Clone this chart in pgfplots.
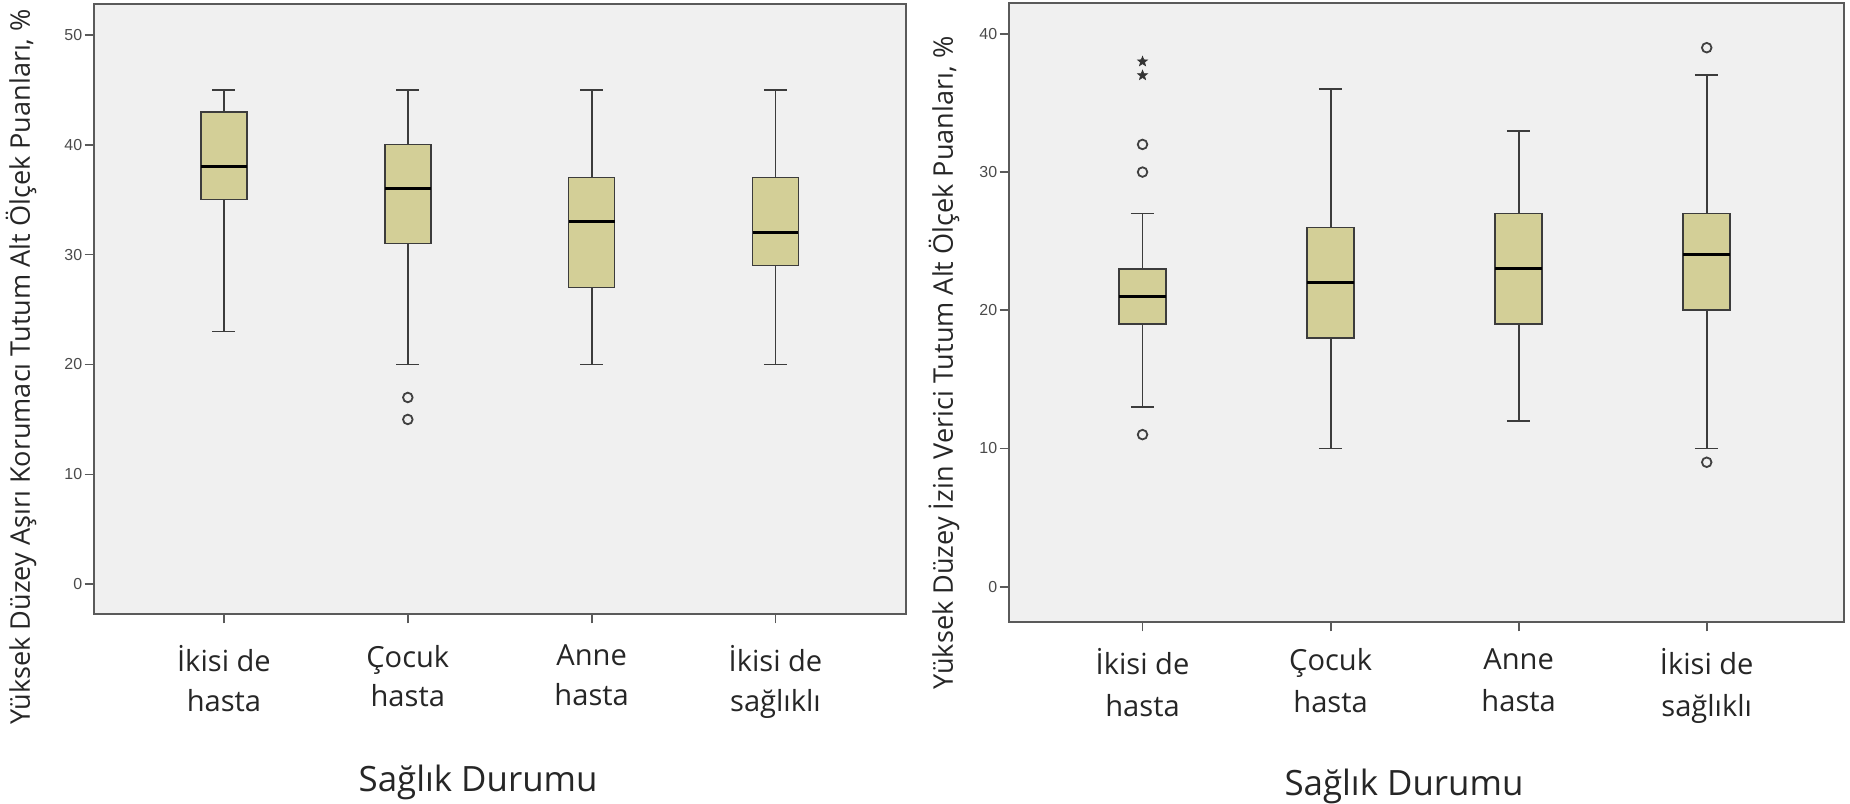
\documentclass[border=0pt]{standalone}
\usepackage{fontspec}
\setmainfont{Open Sans}
\newfontfamily\tickfont{Liberation Sans}
\usepackage{pgfplots}
\pgfplotsset{compat=1.18}
\definecolor{boxfill}{HTML}{D3CF97}
\definecolor{boxline}{HTML}{3C3C3C}
\definecolor{bgc}{HTML}{F0F0F0}
\definecolor{framec}{HTML}{5A5A5A}
\definecolor{outl}{HTML}{404040}
\definecolor{tickc}{HTML}{4A4A4A}
\pgfdeclareplotmark{fstar}{%
  \pgfpathmoveto{\pgfpointpolar{90}{\pgfplotmarksize}}%
  \pgfpathlineto{\pgfpointpolar{126}{0.42\pgfplotmarksize}}%
  \pgfpathlineto{\pgfpointpolar{162}{\pgfplotmarksize}}%
  \pgfpathlineto{\pgfpointpolar{198}{0.42\pgfplotmarksize}}%
  \pgfpathlineto{\pgfpointpolar{234}{\pgfplotmarksize}}%
  \pgfpathlineto{\pgfpointpolar{270}{0.42\pgfplotmarksize}}%
  \pgfpathlineto{\pgfpointpolar{306}{\pgfplotmarksize}}%
  \pgfpathlineto{\pgfpointpolar{342}{0.42\pgfplotmarksize}}%
  \pgfpathlineto{\pgfpointpolar{18}{\pgfplotmarksize}}%
  \pgfpathlineto{\pgfpointpolar{54}{0.42\pgfplotmarksize}}%
  \pgfpathclose
  \pgfusepathqfillstroke}
\pgfplotsset{
  wh/.style={draw=boxline, line width=0.9bp, mark=none, forget plot},
  bxs/.style={draw=boxline, fill=boxfill, line width=0.8bp, mark=none, forget plot},
  md/.style={draw=black, line width=1.5bp, mark=none, forget plot},
  outo/.style={only marks, mark=o, mark size=2.4bp, mark options={draw=outl, line width=0.9bp}},
  sp/.style={
    scale only axis,
    axis background/.style={fill=bgc},
    axis line style={draw=framec, line width=1bp},
    xtick={1,2,3,4},
    xticklabels={{İkisi de\\hasta},{Çocuk\\hasta},{Anne\\hasta},{İkisi de\\sağlıklı}},
    xticklabel style={align=center, font=\fontsize{14.6}{20}\selectfont, text=black!85},
    xtick pos=bottom, ytick pos=left,
    tick align=outside,
    major tick length=4.7bp,
    tick style={draw=framec, line width=0.9bp},
    /pgf/number format/assume math mode=true,
    yticklabel style={font=\tickfont\fontsize{8}{9}\selectfont, text=tickc, inner xsep=1bp},
    ytick={0,10,20,30,40,50},
    minor tick num=0,
    label style={font=\fontsize{13.6}{16}\selectfont, text=black!85},
    xlabel style={font=\fontsize{17.5}{21}\selectfont, anchor=center},
    ylabel style={anchor=center},
    xlabel={Sağlık Durumu},
  }
}
% pos, lower whisker, lower quartile, median, upper quartile, upper whisker
\newcommand{\bxp}[6]{%
  \pgfmathsetmacro{\xa}{#1-0.125}\pgfmathsetmacro{\xb}{#1+0.125}%
  \pgfmathsetmacro{\ca}{#1-0.0625}\pgfmathsetmacro{\cb}{#1+0.0625}%
  \addplot[wh] coordinates {(#1,#2) (#1,#3)};
  \addplot[wh] coordinates {(#1,#5) (#1,#6)};
  \addplot[wh] coordinates {(\ca,#2) (\cb,#2)};
  \addplot[wh] coordinates {(\ca,#6) (\cb,#6)};
  \addplot[bxs] coordinates {(\xa,#3) (\xb,#3) (\xb,#5) (\xa,#5)} -- cycle;
  \addplot[md] coordinates {(\xa,#4) (\xb,#4)};
}
\begin{document}
\begin{tikzpicture}
\useasboundingbox (0,0) rectangle (925bp,402bp);
% Left panel
\begin{axis}[sp,
  at={(47bp,95bp)}, anchor=south west,
  width=406bp, height=305bp,
  xmin=0.293, xmax=4.71, ymin=-2.7, ymax=52.8,
  xticklabel style={yshift=-7.3bp},
  ylabel={Yüksek Düzey Aşırı Korumacı Tutum Alt Ölçek Puanları, \%},
  ylabel style={at={(axis description cs:-0.0899,0.405)}},
  xlabel style={at={(axis description cs:0.473,-0.2765)}},
]
\bxp{1}{23}{35}{38}{43}{45}
\bxp{2}{20}{31}{36}{40}{45}
\bxp{3}{20}{27}{33}{37}{45}
\bxp{4}{20}{29}{32}{37}{45}
\addplot[outo] coordinates {(2,17) (2,15)};
\end{axis}
% Right panel
\begin{axis}[sp,
  at={(504.5bp,91bp)}, anchor=south west,
  width=417.5bp, height=309.25bp,
  xmin=0.29, xmax=4.73, ymin=-2.56, ymax=42.2,
  ytick={0,10,20,30,40},
  xticklabel style={yshift=-5bp, font=\fontsize{14.6}{21}\selectfont},
  ylabel={Yüksek Düzey İzin Verici Tutum Alt Ölçek Puanları, \%},
  ylabel style={at={(axis description cs:-0.0778,0.419)}},
  xlabel style={at={(axis description cs:0.473,-0.2660)}},
]
\bxp{1}{13}{19}{21}{23}{27}
\bxp{2}{10}{18}{22}{26}{36}
\bxp{3}{12}{19}{23}{27}{33}
\bxp{4}{10}{20}{24}{27}{37}
\addplot[outo] coordinates {(1,32) (1,30) (1,11)};
\addplot[outo] coordinates {(4,39) (4,9)};
\addplot[only marks, mark=fstar, mark size=2.6bp, mark options={fill=black!80, draw=black!80, line width=0.3bp}] coordinates {(1,38) (1,37)};
\end{axis}
\end{tikzpicture}
\end{document}
